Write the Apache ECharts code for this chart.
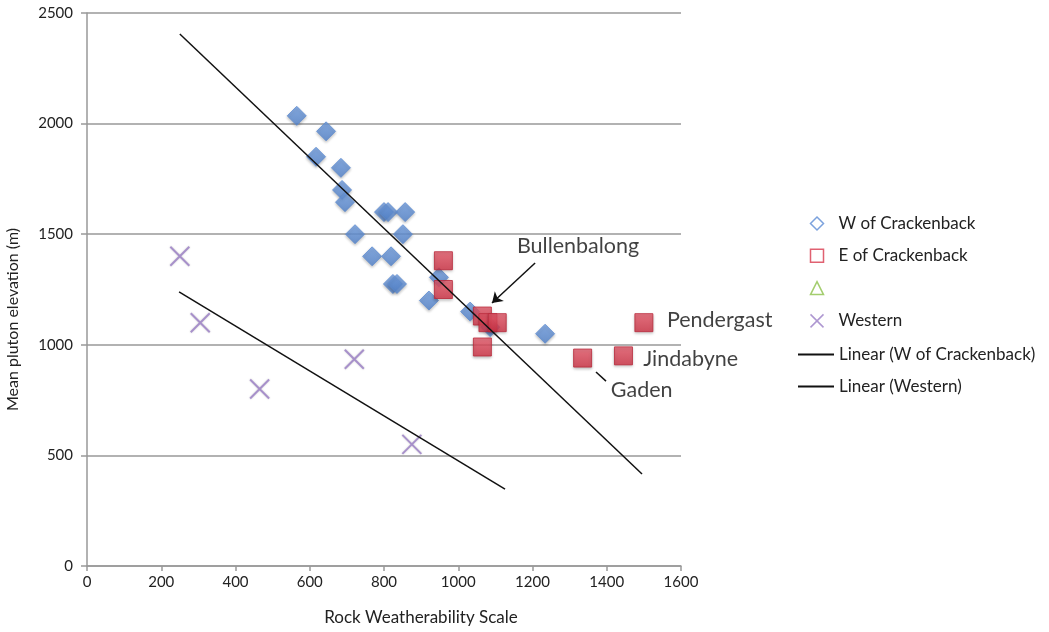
<!DOCTYPE html>
<html><head><meta charset="utf-8">
<script src="https://cdn.jsdelivr.net/npm/echarts@6/dist/echarts.min.js"></script>
<style>html,body{margin:0;padding:0;background:#fff}#c{width:1049px;height:632px}</style>
</head><body><div id="c"></div>
<script>
// W of Crackenback
const wX = [565, 644, 617, 684, 687, 695, 800, 811, 857, 722, 851, 768, 819, 824, 835, 921, 948, 1032, 1086, 1234];
const wY = [2035, 1965, 1850, 1800, 1700, 1645, 1600, 1600, 1600, 1500, 1500, 1400, 1400, 1275, 1275, 1200, 1305, 1150, 1080, 1050];
// E of Crackenback
const eX = [960, 960, 1065, 1080, 1105, 1065, 1335, 1445, 1500];
const eY = [1380, 1250, 1130, 1100, 1100, 990, 940, 950, 1100];
// Western
const westX = [250, 305, 465, 720, 875];
const westY = [1400, 1100, 800, 935, 550];
// Trend lines (endpoints)
const trendWX = [250, 1495];
const trendWY = [2405, 416];
const trendWestX = [248, 1126];
const trendWestY = [1239, 348];
// Annotations
const annNames = ['Bullenbalong', 'Pendergast', 'Jindabyne', 'Gaden'];
const annX = [1158, 1562, 1498, 1411];
const annY = [1447, 1112, 936, 796];
const arrowFrom = [1207, 1370];
const arrowTo = [1091, 1189];
const gadenFrom = [1371, 877];
const gadenTo = [1398, 836];
// Axis ticks
const xTicks = [0, 200, 400, 600, 800, 1000, 1200, 1400, 1600];
const yTicks = [0, 500, 1000, 1500, 2000, 2500];

const zip = (a, b) => a.map((v, i) => [v, b[i]]);
const FONT = 'Lato';
const blue = '#5b8bd4', red = '#d8394d', purple = '#9a7dc6';
const xSym = 'path://M0,0L10,10M10,0L0,10';

const chart = echarts.init(document.getElementById('c'));
chart.setOption({
  animation: false,
  textStyle: { fontFamily: FONT },
  grid: { left: 87, right: 368, top: 13, bottom: 66, containLabel: false, outerBoundsMode: 'none' },
  xAxis: {
    type: 'value', min: xTicks[0], max: xTicks[xTicks.length - 1], interval: 200,
    name: 'Rock Weatherability Scale', nameLocation: 'middle', nameGap: 43,
    nameTextStyle: { fontFamily: FONT, fontSize: 17, color: '#222', padding: [0, 0, 0, 74] },
    axisLine: { lineStyle: { color: '#999', width: 1.5 } },
    axisTick: { show: true, length: 5, lineStyle: { color: '#999', width: 1.5 } },
    axisLabel: { fontFamily: FONT, fontSize: 15, color: '#222', margin: 9, formatter: v => String(v) },
    splitLine: { show: false }
  },
  yAxis: {
    type: 'value', min: yTicks[0], max: yTicks[yTicks.length - 1], interval: 500,
    name: 'Mean pluton elevation (m)', nameLocation: 'middle', nameGap: 66,
    nameTextStyle: { fontFamily: FONT, fontSize: 16, color: '#222', padding: [0, 60, 0, 0] },
    axisLine: { show: true, lineStyle: { color: '#999', width: 1.5 } },
    axisTick: { show: true, length: 6, lineStyle: { color: '#999', width: 1.5 } },
    axisLabel: { fontFamily: FONT, fontSize: 15, color: '#222', margin: 14, formatter: v => String(v) },
    splitLine: { show: true, lineStyle: { color: '#999', width: 1.5 } }
  },
  legend: [{
    orient: 'vertical', left: 803, top: 210, itemGap: 15.3, itemWidth: 13, itemHeight: 13,
    textStyle: { fontFamily: FONT, fontSize: 17, color: '#222', padding: [0, 0, 0, 10] },
    selectedMode: false,
    data: [
      { name: 'W of Crackenback', icon: 'diamond', itemStyle: { color: '#fff', borderColor: blue, borderWidth: 1.5 } },
      { name: 'E of Crackenback', icon: 'rect', itemStyle: { color: '#fff', borderColor: red, borderWidth: 1.5 } },
      { name: ' ', icon: 'triangle', itemStyle: { color: '#fff', borderColor: '#8cc04a', borderWidth: 1.5 } },
      { name: 'Western', icon: xSym, itemStyle: { color: 'none', borderColor: purple, borderWidth: 1.5 } }
    ]
  }, {
    orient: 'vertical', left: 793, top: 341, itemGap: 15, itemWidth: 36, itemHeight: 2,
    textStyle: { fontFamily: FONT, fontSize: 17, color: '#222' },
    selectedMode: false,
    data: [
      { name: 'Linear (W of Crackenback)', icon: 'rect', itemStyle: { color: '#111' } },
      { name: 'Linear (Western)', icon: 'rect', itemStyle: { color: '#111' } }
    ]
  }],
  series: [
    {
      name: 'W of Crackenback', type: 'scatter', symbol: 'diamond', symbolSize: 19, z: 2,
      itemStyle: {
        color: new echarts.graphic.LinearGradient(0, 0, 0, 1, [{ offset: 0, color: '#72a0e4' }, { offset: 1, color: '#5283cc' }]),
        borderColor: '#5e8cd2', borderWidth: 1,
        shadowBlur: 3, shadowColor: 'rgba(0,0,0,0.3)', shadowOffsetY: 1.5
      },
      data: zip(wX, wY)
    },
    {
      name: 'E of Crackenback', type: 'scatter', symbol: 'rect', symbolSize: 18, z: 3,
      itemStyle: {
        color: new echarts.graphic.LinearGradient(0, 0, 0, 1, [{ offset: 0, color: '#ea5a6b' }, { offset: 1, color: '#cf3043' }]),
        borderColor: '#b9283a', borderWidth: 1,
        shadowBlur: 3, shadowColor: 'rgba(0,0,0,0.3)', shadowOffsetY: 1.5
      },
      data: zip(eX, eY)
    },
    { name: ' ', type: 'scatter', symbol: 'triangle', itemStyle: { color: '#8cc04a' }, data: [] },
    {
      name: 'Western', type: 'scatter', symbol: xSym, symbolSize: 19, z: 2,
      itemStyle: { color: 'none', borderColor: purple, borderWidth: 2, shadowBlur: 2, shadowColor: 'rgba(0,0,0,0.25)' },
      data: zip(westX, westY)
    },
    {
      name: 'Linear (W of Crackenback)', type: 'line', showSymbol: false, symbol: 'none', z: 4,
      lineStyle: { color: '#111', width: 1.5 }, itemStyle: { color: '#111' },
      data: zip(trendWX, trendWY)
    },
    {
      name: 'Linear (Western)', type: 'line', showSymbol: false, symbol: 'none', z: 4,
      lineStyle: { color: '#111', width: 1.5 }, itemStyle: { color: '#111' },
      data: zip(trendWestX, trendWestY)
    },
    {
      name: 'annotations', type: 'scatter', symbolSize: 0, z: 5, silent: true,
      label: { show: true, position: 'right', distance: 0, formatter: p => p.name, fontFamily: FONT, fontSize: 21.5, color: '#111' },
      data: annNames.map((n, i) => ({ name: n, value: [annX[i], annY[i]] }))
    },
    {
      name: 'pointers', type: 'lines', coordinateSystem: 'cartesian2d', z: 5, silent: true,
      lineStyle: { color: '#111', width: 1.5, opacity: 1 },
      data: [
        { coords: [arrowFrom, arrowTo], symbol: ['none', 'arrow'], symbolSize: 10 },
        { coords: [gadenFrom, gadenTo], symbol: ['none', 'none'] }
      ]
    }
  ]
});
</script></body></html>
